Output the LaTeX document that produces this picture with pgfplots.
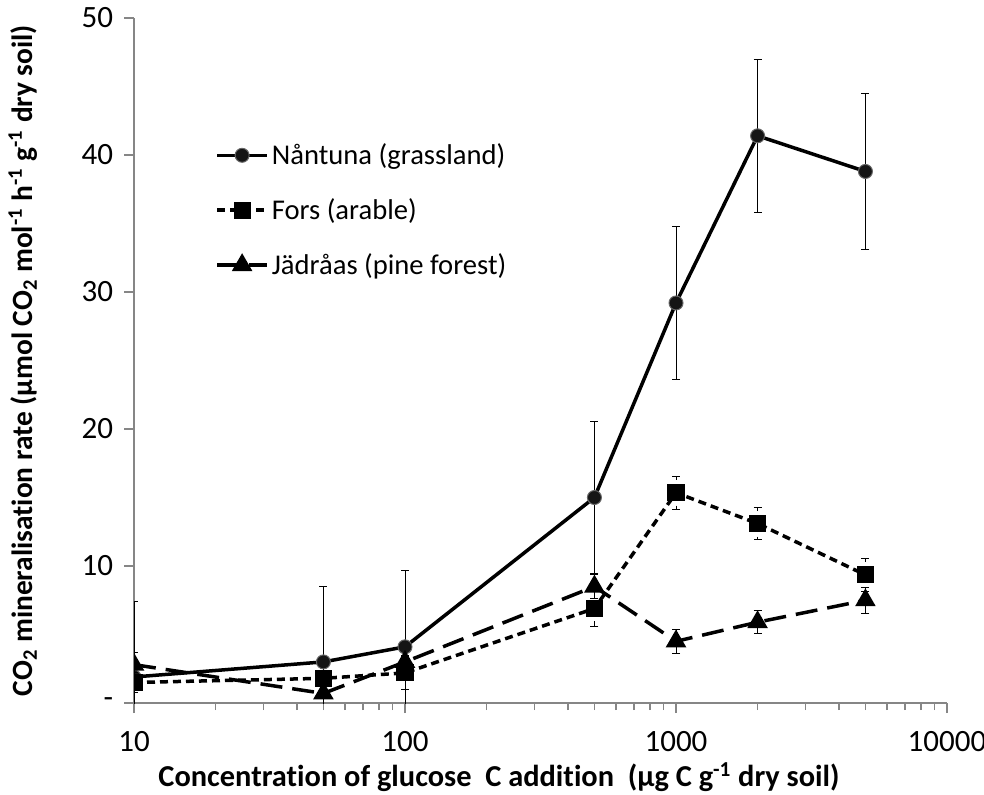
\documentclass[border=0pt]{standalone}
\usepackage{fontspec}
\setmainfont{Carlito}[Ligatures=NoCommon]
\usepackage{pgfplots}
\pgfplotsset{compat=1.18}
\definecolor{axgray}{HTML}{868686}
\definecolor{mk}{HTML}{151515}
\pgfplotstableread{
x y e
10 1.9 5.5
50 3.0 5.5
100 4.1 5.55
500 15.0 5.55
1000 29.2 5.6
2000 41.4 5.6
5000 38.8 5.7
}\nantuna
\pgfplotstableread{
x y e
10 1.5 0.7
50 1.8 0.5
100 2.2 1.2
500 6.9 1.3
1000 15.35 1.2
2000 13.1 1.2
5000 9.35 1.2
}\fors
\pgfplotstableread{
x y e
10 2.8 0.9
50 0.7 0.3
100 3.0 0.5
500 8.5 0.9
1000 4.5 0.9
2000 5.9 0.85
5000 7.5 0.95
}\jadraas
\begin{document}
\begin{tikzpicture}
\useasboundingbox (-67pt,-45.5pt) rectangle (425pt,351.5pt);
\begin{axis}[
  scale only axis, width=406.5pt, height=342.5pt,
  xmode=log, xmin=10, xmax=10000, ymin=0, ymax=50,
  axis lines*=left,
  axis line style={color=axgray, line width=1pt},
  tick style={color=axgray, line width=0.8pt},
  tick align=outside, major tick length=5pt, minor tick length=3.5pt,
  xtick={10,100,1000,10000}, xticklabels={10,100,1000,10000},
  minor xtick={20,30,40,50,60,70,80,90,200,300,400,500,600,700,800,900,2000,3000,4000,5000,6000,7000,8000,9000},
  ytick={0,10,20,30,40,50}, yticklabels={-,10,20,30,40,50},
  ticklabel style={font=\fontsize{15.5}{18}\selectfont},
  /pgf/number format/assume math mode=true,
  xticklabel style={yshift=-5.5pt},
  yticklabel style={xshift=-2pt},
  clip marker paths=true,
  every axis x label/.style={at={(axis description cs:0.449,-0.108)}, anchor=center, inner sep=0pt, font=\bfseries\fontsize{15.2}{18}\selectfont},
  every axis y label/.style={at={(axis description cs:-0.1365,0.5)}, anchor=center, rotate=90, inner sep=0pt, font=\bfseries\fontsize{14.7}{16}\selectfont},
  xlabel={Concentration of glucose\ \ C addition\ \ (µg C g\textsuperscript{-1} dry soil)},
  ylabel={CO\textsubscript{2} mineralisation rate (µmol CO\textsubscript{2} mol\textsuperscript{-1} h\textsuperscript{-1} g\textsuperscript{-1} dry soil)},
  legend style={draw=none, fill=none, at={(axis description cs:0.0996,0.822)}, anchor=north west,
    font=\fontsize{14.3}{17}\selectfont, row sep=12.5pt, inner sep=0pt, nodes={inner sep=1.5pt}},
  legend cell align=left,
  legend image code/.code={\draw[mark repeat=2,mark phase=2,#1] plot coordinates {(0pt,0pt)(12.5pt,0pt)(25pt,0pt)};},
  error bars/error bar style={line width=0.5pt, black},
  error bars/error mark options={rotate=90, mark size=2pt, line width=0.5pt, black},
]
\addplot[black, line width=1.75pt, mark=*, mark size=3.5pt,
  mark options={solid, fill=mk, draw=gray!80!black, line width=0.5pt},
  error bars/.cd, y dir=both, y explicit]
  table[x=x, y=y, y error=e] {\nantuna};
\addlegendentry{Nåntuna (grassland)}
\addplot[black, line width=1.75pt, dash pattern=on 4pt off 2.5pt, mark=square*, mark size=3.4pt,
  mark options={solid, fill=black},
  error bars/.cd, y dir=both, y explicit]
  table[x=x, y=y, y error=e] {\fors};
\addlegendentry{Fors (arable)}
\addplot[black, line width=1.75pt, dash pattern=on 11pt off 5pt, mark=triangle*, mark size=4.2pt,
  mark options={solid, fill=black},
  error bars/.cd, y dir=both, y explicit]
  table[x=x, y=y, y error=e] {\jadraas};
\addlegendentry{Jädråas (pine forest)}
\end{axis}
\end{tikzpicture}
\end{document}
